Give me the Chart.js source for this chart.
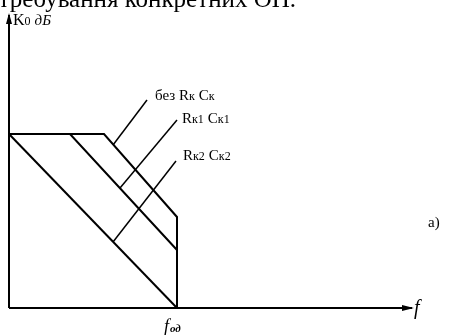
<!DOCTYPE html>
<html>
<head>
<meta charset="utf-8">
<script src="https://cdn.jsdelivr.net/npm/chart.js@4.4.0/dist/chart.umd.min.js"></script>
<style>
  html, body { margin: 0; padding: 0; background: #fff; }
  #wrap { width: 464px; height: 335px; position: relative; }
</style>
</head>
<body>
<div id="wrap"><canvas id="lafc"></canvas></div>
<script>
// Frequency response (arbitrary units: x = f, y = K0 dB)
const bezX = [0, 95, 168, 168];
const bezY = [174, 174, 91, 0];
const rk1X = [0, 61, 168];
const rk1Y = [174, 174, 58];
const rk2X = [0, 168];
const rk2Y = [174, 0];

// callout leader lines
const leadBezX = [138, 104];
const leadBezY = [208, 163];
const leadRk1X = [168, 111];
const leadRk1Y = [188, 120];
const leadRk2X = [167, 104];
const leadRk2Y = [147, 66];

const xMax = 403;
const yMax = 293;
const fodValue = 168;

const toPoints = (xs, ys) => xs.map((x, i) => ({ x: x, y: ys[i] }));

const lineSet = (xs, ys, width) => ({
    data: toPoints(xs, ys),
    borderColor: '#000',
    borderWidth: width,
    pointRadius: 0,
    tension: 0,
    fill: false,
    clip: false
});

// draws "R" + small "к1" style labels
function drawSubLabel(ctx, x, y, parts) {
    let cx = x;
    parts.forEach(p => {
        ctx.font = p.font;
        ctx.fillText(p.text, cx, y + (p.dy || 0));
        cx += ctx.measureText(p.text).width + (p.gap || 0);
    });
}

const annotations = {
    id: 'annotations',
    afterDraw(chart) {
        const ctx = chart.ctx;
        const xs = chart.scales.x;
        const ys = chart.scales.y;
        const x0 = xs.getPixelForValue(0);
        const y0 = ys.getPixelForValue(0);
        const xEnd = xs.getPixelForValue(xMax);
        const yTop = ys.getPixelForValue(yMax);

        ctx.save();
        ctx.fillStyle = '#000';
        ctx.strokeStyle = '#000';

        // arrow heads
        ctx.beginPath();
        ctx.moveTo(x0, yTop - 2);
        ctx.lineTo(x0 - 3, yTop + 9);
        ctx.lineTo(x0 + 3, yTop + 9);
        ctx.closePath();
        ctx.fill();
        ctx.beginPath();
        ctx.moveTo(xEnd + 2, y0);
        ctx.lineTo(xEnd - 10, y0 - 3);
        ctx.lineTo(xEnd - 10, y0 + 3);
        ctx.closePath();
        ctx.fill();

        ctx.textBaseline = 'alphabetic';
        const serif = '"Liberation Serif", "DejaVu Serif", serif';

        // clipped caption line from the page above
        ctx.font = '25px ' + serif;
        ctx.textAlign = 'right';
        ctx.fillText('потребування конкретних ОП.', 296, 7);
        ctx.textAlign = 'left';

        // y-axis title
        drawSubLabel(ctx, 13, 25, [
            { text: 'K', font: '16px ' + serif },
            { text: '0', font: '12px ' + serif, gap: 4 },
            { text: 'дБ', font: 'italic 15px ' + serif }
        ]);

        // curve labels
        drawSubLabel(ctx, 155, 100, [
            { text: 'без ', font: '15px ' + serif },
            { text: 'R', font: '15px ' + serif },
            { text: 'к', font: '12px ' + serif, gap: 4 },
            { text: 'C', font: '15px ' + serif },
            { text: 'к', font: '12px ' + serif }
        ]);
        drawSubLabel(ctx, 182, 123, [
            { text: 'R', font: '15px ' + serif },
            { text: 'к1', font: '12px ' + serif, gap: 4 },
            { text: 'C', font: '15px ' + serif },
            { text: 'к1', font: '12px ' + serif }
        ]);
        drawSubLabel(ctx, 183, 160, [
            { text: 'R', font: '15px ' + serif },
            { text: 'к2', font: '12px ' + serif, gap: 4 },
            { text: 'C', font: '15px ' + serif },
            { text: 'к2', font: '12px ' + serif }
        ]);

        // x-axis labels
        const fx = xs.getPixelForValue(fodValue);
        drawSubLabel(ctx, fx - 13, y0 + 24, [
            { text: 'f', font: 'italic 18px ' + serif, gap: 1 },
            { text: 'од', font: 'italic bold 11px ' + serif }
        ]);
        ctx.font = 'italic 20px ' + serif;
        ctx.fillText('f', xEnd + 2, y0 + 6);

        ctx.font = '15px ' + serif;
        ctx.fillText('a)', 428, 227);
        ctx.restore();
    }
};

new Chart(document.getElementById('lafc'), {
    type: 'line',
    data: {
        datasets: [
            lineSet([0, 0], [0, yMax], 2),          // y axis
            lineSet([0, xMax], [0, 0], 2),          // x axis
            lineSet(bezX, bezY, 2),
            lineSet(rk1X, rk1Y, 2),
            lineSet(rk2X, rk2Y, 2),
            lineSet(leadBezX, leadBezY, 1.5),
            lineSet(leadRk1X, leadRk1Y, 1.5),
            lineSet(leadRk2X, leadRk2Y, 1.5)
        ]
    },
    options: {
        responsive: true,
        maintainAspectRatio: false,
        animation: false,
        layout: { padding: { left: 9, top: 15, right: 52, bottom: 27 } },
        plugins: {
            legend: { display: false },
            tooltip: { enabled: false }
        },
        scales: {
            x: { type: 'linear', min: 0, max: xMax, display: false },
            y: { type: 'linear', min: 0, max: yMax, display: false }
        }
    },
    plugins: [annotations]
});
</script>
</body>
</html>
